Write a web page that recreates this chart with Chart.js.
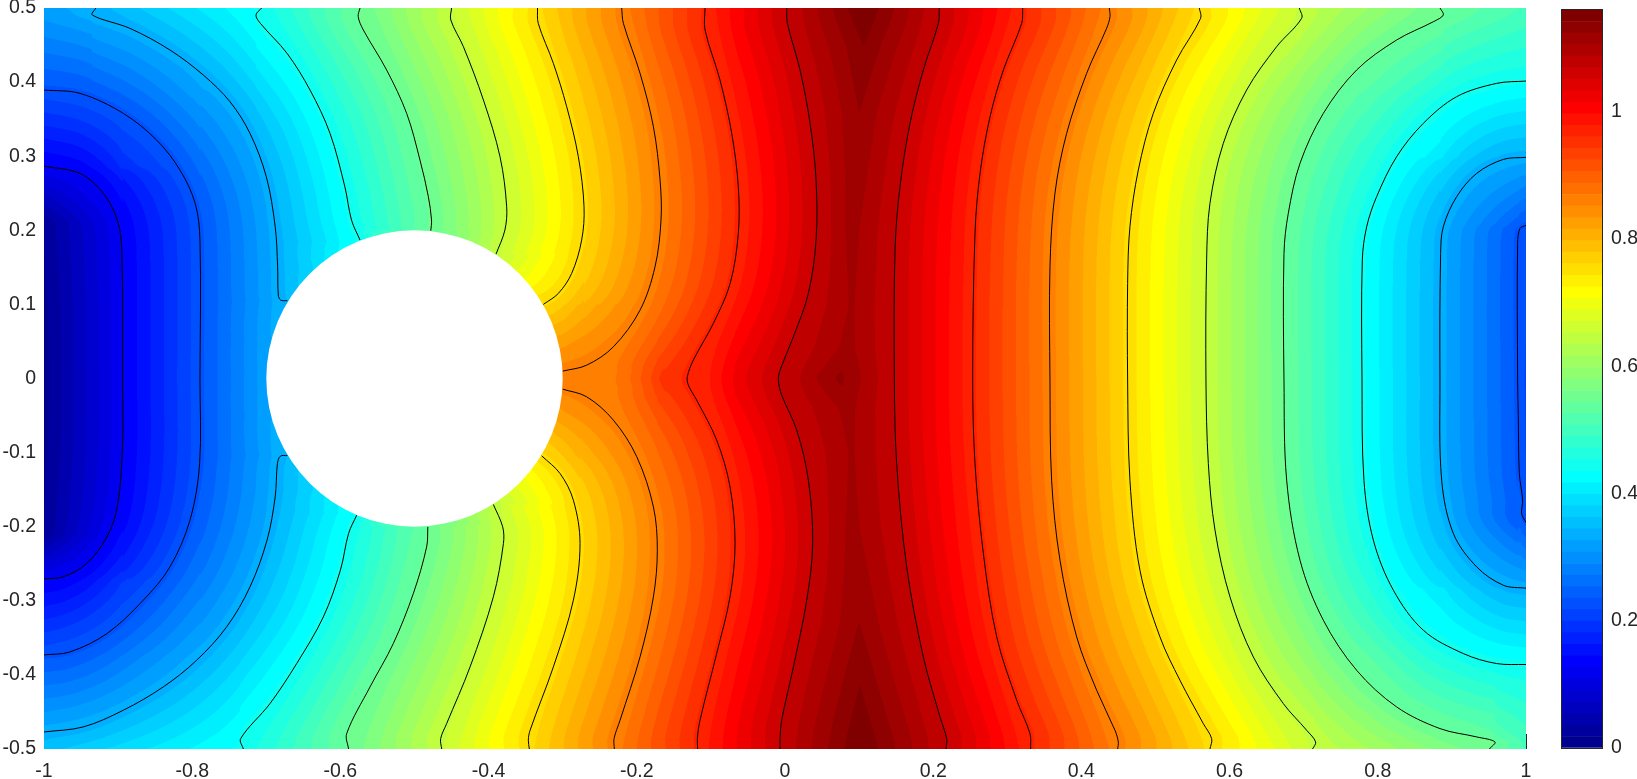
<!DOCTYPE html>
<html>
<head>
<meta charset="utf-8">
<title>Filled contour</title>
<script src="https://cdn.jsdelivr.net/npm/chart.js@4/dist/chart.umd.min.js"></script>
<style>
  html, body { margin: 0; padding: 0; background: #fff; overflow: hidden; }
  #field { position: absolute; left: 0; top: 0; }
  #cbar { position: absolute; left: 1540px; top: 0; }
</style>
</head>
<body>
<canvas id="field" width="1540" height="779"></canvas>
<canvas id="cbar" width="97" height="779"></canvas>
<script>
// tick labels
const xTicks = [-1, -0.8, -0.6, -0.4, -0.2, 0, 0.2, 0.4, 0.6, 0.8, 1];
const yTicks = [-0.5, -0.4, -0.3, -0.2, -0.1, 0, 0.1, 0.2, 0.3, 0.4, 0.5];
const cbarTicks = [0, 0.2, 0.4, 0.6, 0.8, 1];
const cbarMax = 1.16;
const bandCount = 64;

// value of each black contour line
const levels = [0.125, 0.23, 0.335, 0.44, 0.545, 0.65, 0.755, 0.86, 0.965, 1.07];

// contour lines, [x, y]
const line1 = [[-1,.2867],[-.9514,.2768],[-.92,.25],[-.901,.2138],[-.895,.1733],[-.894,-.002],[-.894,-.092],[-.901,-.173],[-.915,-.2137],[-.9424,-.2497],[-.974,-.2677],[-1,-.2704]];
const line2 = [[-1,.3893],[-.9514,.3848],[-.893,.3578],[-.848,.3218],[-.8165,.2813],[-.796,.2363],[-.7895,.1868],[-.7895,-.002],[-.79,-.1147],[-.803,-.1912],[-.83,-.2542],[-.866,-.2992],[-.915,-.3442],[-.965,-.369],[-1,-.373]];
const line3a = [[-.93,.5],[-.9348,.4905],[-.884,.4725],[-.83,.4433],[-.785,.4095],[-.749,.3735],[-.722,.3308],[-.7,.2723],[-.688,.2048],[-.6847,.1508],[-.6838,.1125],[-.6806,.1058],[-.6716,.105]];
const line3b = [[-.6716,-.104],[-.681,-.1048],[-.685,-.1147],[-.688,-.1597],[-.699,-.2182],[-.722,-.2812],[-.7535,-.3352],[-.794,-.3802],[-.839,-.4162],[-.893,-.4477],[-.947,-.4702],[-1,-.477]];
const line4a = [[-.7062,.5],[-.714,.4905],[-.708,.4793],[-.672,.4388],[-.641,.3893],[-.614,.3308],[-.594,.2588],[-.585,.2138],[-.5735,.1868]];
const line4b = [[-.578,-.1845],[-.589,-.2092],[-.6,-.2587],[-.623,-.3217],[-.659,-.3847],[-.695,-.4387],[-.7346,-.486],[-.731,-.5]];
const line5a = [[-.5735,.5],[-.576,.4883],[-.569,.4703],[-.5376,.4163],[-.5106,.3578],[-.4926,.2948],[-.4813,.2453],[-.477,.2138],[-.478,.1994]];
const line5b = [[-.482,-.2002],[-.4836,-.2272],[-.5016,-.2902],[-.5286,-.3577],[-.56,-.4162],[-.5915,-.4792],[-.589,-.5]];
const line6a = [[-.45,.5],[-.451,.4838],[-.434,.4478],[-.407,.3758],[-.3846,.2993],[-.3756,.2318],[-.378,.2003],[-.39,.1678]];
const line6b = [[-.3936,-.17],[-.381,-.2002],[-.38,-.2227],[-.3936,-.2947],[-.425,-.3892],[-.4566,-.4657],[-.4647,-.486],[-.4633,-.5]];
const line7a = [[-.334,.5],[-.333,.4793],[-.3126,.4253],[-.2946,.3668],[-.2789,.2993],[-.2712,.2318],[-.2744,.1868],[-.2879,.1418],[-.3059,.1148],[-.3261,.1]];
const line7b = [[-.3283,-.1044],[-.3036,-.1282],[-.2856,-.1642],[-.2766,-.2227],[-.2856,-.2992],[-.3126,-.3892],[-.344,-.4747],[-.3464,-.488],[-.345,-.5]];
const line8a = [[-.2204,.5],[-.2181,.4793],[-.1956,.4118],[-.1776,.3398],[-.1686,.2678],[-.1673,.2138],[-.1754,.1508],[-.1956,.0923],[-.2316,.0428],[-.2676,.018],[-.3,.01]];
const line8b = [[-.3,-.0144],[-.2676,-.0247],[-.2316,-.0562],[-.2,-.1057],[-.1776,-.1732],[-.1723,-.2317],[-.1776,-.2947],[-.1956,-.3757],[-.2226,-.4612],[-.2307,-.486],[-.2303,-.5]];
const line9a = [[-.1079,.5],[-.1079,.4703],[-.0877,.4028],[-.0719,.3308],[-.063,.2588],[-.063,.1958],[-.074,.1283],[-.0967,.0743],[-.1237,.0248],[-.1318,.0023],[-.1304,-.009],[-.1192,-.0292],[-.0922,-.0832],[-.0742,-.1462],[-.0674,-.2227],[-.0742,-.2947],[-.0922,-.3712],[-.1147,-.4612],[-.1183,-.486],[-.1178,-.5]];
const line10a = [[.0023,.5],[.0032,.4793],[.0203,.4163],[.0338,.3443],[.0419,.2678],[.0419,.1868],[.0315,.1148],[.0113,.0563],[-.0067,.0113],[-.009,-.002],[-.0045,-.0225],[.0158,-.0697],[.0315,-.1372],[.0374,-.2227],[.0293,-.2992],[.0113,-.3892],[-.0045,-.4612],[-.0067,-.486],[-.0067,-.5]];
const line10b = [[.2083,.5],[.207,.4793],[.1867,.4163],[.1687,.3443],[.1552,.2588],[.1485,.1733],[.1476,-.002],[.1507,-.1147],[.1642,-.2542],[.1867,-.3757],[.2092,-.4567],[.2182,-.486],[.2173,-.5]];
const line9b = [[.3208,.5],[.3194,.4793],[.2947,.4163],[.2767,.3533],[.2632,.2768],[.2564,.1958],[.2533,-.002],[.2564,-.1147],[.2677,-.2362],[.2857,-.3487],[.3127,-.4342],[.3306,-.4792],[.3315,-.5]];
const line8c = [[.4377,.5],[.4386,.4883],[.434,.4725],[.4071,.4118],[.3801,.3308],[.3643,.2498],[.3576,.1508],[.3576,-.002],[.3598,-.1372],[.3711,-.2452],[.3936,-.3487],[.4206,-.4207],[.4453,-.4747],[.4498,-.4905],[.4489,-.5]];
const line7c = [[.5591,.5],[.5609,.4861],[.5285,.4298],[.497,.3578],[.4768,.2813],[.4655,.2048],[.4624,.1283],[.4624,-.002],[.4655,-.1372],[.479,-.2587],[.506,-.3487],[.533,-.4072],[.5645,-.4657],[.5758,-.486],[.5735,-.5]];
const line6c = [[.6941,.5],[.6972,.4861],[.6635,.4478],[.623,.3893],[.5915,.3173],[.5735,.2363],[.569,.1598],[.5681,-.002],[.5713,-.1147],[.5803,-.2047],[.6005,-.2947],[.632,-.3757],[.6725,-.4387],[.704,-.4747],[.7161,-.4905],[.712,-.5]];
const line5c = [[.884,.5],[.8884,.4905],[.875,.4815],[.8254,.4568],[.7714,.4163],[.7265,.3578],[.695,.2903],[.6792,.2228],[.6734,.1688],[.6734,-.002],[.677,-.1372],[.695,-.2452],[.7265,-.3262],[.7714,-.3937],[.8254,-.4432],[.884,-.4725],[.9334,-.4837],[.9581,-.4905],[.9505,-.5]];
const line4c = [[1,.4014],[.9604,.3983],[.9064,.3803],[.8614,.3443],[.8254,.2993],[.7984,.2453],[.785,.2048],[.7791,.1598],[.7787,-.002],[.7813,-.1372],[.794,-.2182],[.821,-.2857],[.8614,-.3397],[.9154,-.3712],[.9604,-.3847],[1,-.386]];
const line3c = [[1,.2984],[.9694,.2957],[.9334,.2768],[.9064,.2453],[.8884,.2048],[.8848,.1688],[.8839,-.002],[.8862,-.1372],[.902,-.2092],[.9334,-.2542],[.9694,-.279],[1,-.283]];
const line2c = [[1,.2066],[.9919,.2025],[.9887,.1823],[.9887,-.002],[.9896,-.05],[.991,-.1282],[.9955,-.1642],[.9941,-.1822],[1,-.1944]];

const contourSets = [
  [0, [line1]],
  [1, [line2, line2c]],
  [2, [line3a, line3b, line3c]],
  [3, [line4a, line4b, line4c]],
  [4, [line5a, line5b, line5c]],
  [5, [line6a, line6b, line6c]],
  [6, [line7a, line7b, line7c]],
  [7, [line8a, line8b, line8c]],
  [8, [line9a, line9b]],
  [9, [line10a, line10b]]
];

// values read along the two side edges
const leftEdgeY = [.5, .45, .3893, .2867, .21, .1, 0, -.1, -.21, -.2704, -.373, -.477, -.5];
const leftEdgeZ = [.32, .285, .23, .125, .02, .012, .01, .012, .02, .125, .23, .335, .355];
const rightEdgeY = [.5, .45, .4014, .35, .2984, .2066, .15, 0, -.1, -.1944, -.283, -.386, -.45, -.5];
const rightEdgeZ = [.505, .485, .44, .385, .335, .23, .222, .215, .217, .23, .335, .44, .485, .505];

// crest of the field between the two innermost lines
const ridgeY = [.5, .45, .36, .2, .1, .04, 0, -.04, -.1, -.2, -.33, -.414, -.5];
const ridgeX = [.106, .106, .1, .09, .09, .085, .074, .085, .09, .09, .1, .101, .102];
const ridgeZ = [1.16, 1.142, 1.124, 1.113, 1.108, 1.112, 1.128, 1.112, 1.108, 1.112, 1.124, 1.142, 1.16];

// values read around the rim of the hole
const holeCenter = [{ x: -0.5, y: 0 }];
const holeRadius = 0.2;
const rimY = [.2, .187, .15, .105, .05, .012, 0];
const rimLeftZ = [.525, .44, .385, .346, .326, .32, .32];
const rimRightZ = [.54, .6, .68, .755, .825, .86, .87];

function jet(t) {
  const c = v => Math.round(255 * Math.max(0, Math.min(1, 1.5 - Math.abs(4 * t - v))));
  return [c(3), c(2), c(1)];
}
function bandColor(i) {
  const rgb = jet((i + 1) / bandCount);
  return `rgb(${rgb[0]},${rgb[1]},${rgb[2]})`;
}

// ys runs high to low
function readAt(ys, vals, y) {
  for (let i = 1; i < ys.length; i++) {
    if (y >= ys[i]) {
      return vals[i - 1] + (vals[i] - vals[i - 1]) * (ys[i - 1] - y) / (ys[i - 1] - ys[i]);
    }
  }
  return vals[vals.length - 1];
}

const lineTension = 0.34;
const lineSteps = 8;

// same curve the line element draws, so the bands follow the black lines
function curvePoints(pts) {
  const p = pts.map(q => ({ x: q[0], y: q[1] }));
  const out = [pts[0]];
  for (let i = 1; i < p.length; i++) {
    const c0 = Chart.helpers.splineCurve(p[Math.max(i - 2, 0)], p[i - 1], p[i], lineTension).next;
    const c1 = Chart.helpers.splineCurve(p[i - 1], p[i], p[Math.min(i + 1, p.length - 1)], lineTension).previous;
    for (let s = 1; s <= lineSteps; s++) {
      const t = s / lineSteps, u = 1 - t;
      out.push([
        u * u * u * p[i - 1].x + 3 * u * u * t * c0.x + 3 * u * t * t * c1.x + t * t * t * p[i].x,
        u * u * u * p[i - 1].y + 3 * u * u * t * c0.y + 3 * u * t * t * c1.y + t * t * t * p[i].y
      ]);
    }
  }
  return out;
}

const curves = [];
contourSets.forEach(([lev, lines]) => {
  lines.forEach(pts => curves.push({ z: levels[lev], pts: curvePoints(pts) }));
});

// what a row of the field passes through, left to right
function rowCrossings(y) {
  const out = [
    [-1, readAt(leftEdgeY, leftEdgeZ, y)],
    [1, readAt(rightEdgeY, rightEdgeZ, y)],
    [readAt(ridgeY, ridgeX, y), readAt(ridgeY, ridgeZ, y)]
  ];
  curves.forEach(cv => {
    for (let i = 1; i < cv.pts.length; i++) {
      const a = cv.pts[i - 1], b = cv.pts[i];
      if ((a[1] > y) !== (b[1] > y)) {
        out.push([a[0] + (b[0] - a[0]) * (y - a[1]) / (b[1] - a[1]), cv.z]);
      }
    }
  });
  const ay = Math.abs(y);
  if (ay < holeRadius) {
    const dx = Math.sqrt(holeRadius * holeRadius - y * y);
    out.push([holeCenter[0].x - dx, readAt(rimY, rimLeftZ, ay)]);
    out.push([holeCenter[0].x + dx, readAt(rimY, rimRightZ, ay)]);
  }
  return out.sort((p, q) => p[0] - q[0]);
}

function valueAlong(cross, v) {
  let k = 0;
  while (k < cross.length - 2 && cross[k + 1][0] < v) k++;
  const a = cross[k], b = cross[k + 1];
  return b[0] > a[0] ? a[1] + (b[1] - a[1]) * (v - a[0]) / (b[0] - a[0]) : a[1];
}

// what a column passes through, bottom to top
function columnCrossings(x, topRow, bottomRow) {
  const out = [[-0.5, valueAlong(bottomRow, x)], [0.5, valueAlong(topRow, x)]];
  curves.forEach(cv => {
    for (let i = 1; i < cv.pts.length; i++) {
      const a = cv.pts[i - 1], b = cv.pts[i];
      if ((a[0] > x) !== (b[0] > x)) {
        out.push([a[1] + (b[1] - a[1]) * (x - a[0]) / (b[0] - a[0]), cv.z]);
      }
    }
  });
  const dc = x - holeCenter[0].x;
  if (Math.abs(dc) < holeRadius) {
    const dy = Math.sqrt(holeRadius * holeRadius - dc * dc);
    const z = readAt(rimY, dc < 0 ? rimLeftZ : rimRightZ, dy);
    out.push([-dy, z], [dy, z]);
  }
  return out.sort((p, q) => p[0] - q[0]);
}

let fieldImage = null;
const fieldFill = {
  id: 'fieldFill',
  beforeDatasetsDraw(chart) {
    const { ctx, chartArea: area, scales } = chart;
    if (!fieldImage) {
      const ss = 2;
      const w = Math.round(area.width) * ss, h = Math.round(area.height) * ss;
      fieldImage = document.createElement('canvas');
      fieldImage.width = w;
      fieldImage.height = h;
      const g = fieldImage.getContext('2d');
      const img = g.createImageData(w, h);
      const lut = [];
      for (let i = 0; i < bandCount; i++) lut.push(jet((i + 1) / bandCount));
      const xs = new Float64Array(w), ys = new Float64Array(h);
      for (let c = 0; c < w; c++) xs[c] = scales.x.getValueForPixel(area.left + (c + 0.5) / ss);
      for (let r = 0; r < h; r++) ys[r] = scales.y.getValueForPixel(area.top + (r + 0.5) / ss);
      const rowZ = new Float32Array(w * h), rowW = new Float32Array(w * h);
      for (let r = 0; r < h; r++) {
        const cross = rowCrossings(ys[r]);
        let k = 0;
        for (let c = 0; c < w; c++) {
          while (k < cross.length - 2 && cross[k + 1][0] < xs[c]) k++;
          const a = cross[k], b = cross[k + 1], gap = b[0] - a[0];
          rowZ[r * w + c] = gap > 0 ? a[1] + (b[1] - a[1]) * (xs[c] - a[0]) / gap : a[1];
          rowW[r * w + c] = 1 / Math.pow(Math.max(gap, 0.002), 3);
        }
      }
      const topRow = rowCrossings(0.4995), bottomRow = rowCrossings(-0.4995);
      for (let c = 0; c < w; c++) {
        const cross = columnCrossings(xs[c], topRow, bottomRow);
        let k = 0;
        for (let r = h - 1; r >= 0; r--) {
          while (k < cross.length - 2 && cross[k + 1][0] < ys[r]) k++;
          const a = cross[k], b = cross[k + 1], gap = b[0] - a[0];
          const zc = gap > 0 ? a[1] + (b[1] - a[1]) * (ys[r] - a[0]) / gap : a[1];
          const wc = 1 / Math.pow(Math.max(gap, 0.002), 3);
          const wr = rowW[r * w + c];
          const z = (rowZ[r * w + c] * wr + zc * wc) / (wr + wc);
          const band = Math.max(0, Math.min(bandCount - 1, Math.floor(z / cbarMax * bandCount)));
          const o = (r * w + c) * 4;
          img.data[o] = lut[band][0];
          img.data[o + 1] = lut[band][1];
          img.data[o + 2] = lut[band][2];
          img.data[o + 3] = 255;
        }
      }
      g.putImageData(img, 0, 0);
    }
    ctx.drawImage(fieldImage, area.left, area.top, area.width, area.height);
  }
};

const tickFont = { family: '"Liberation Sans", Arial, sans-serif', size: 19.5 };
const textColor = '#262626';

const lineSets = [];
contourSets.forEach(([lev, lines]) => {
  lines.forEach(pts => {
    lineSets.push({
      data: pts.map(p => ({ x: p[0], y: p[1] })),
      showLine: true,
      borderColor: '#000',
      borderWidth: 1,
      pointRadius: 0,
      tension: lineTension
    });
  });
});

new Chart(document.getElementById('field'), {
  type: 'scatter',
  data: {
    datasets: [{
      data: holeCenter,
      pointBackgroundColor: '#fff',
      pointBorderWidth: 0,
      pointRadius: ctx => ctx.chart.scales.x.getPixelForValue(holeCenter[0].x + holeRadius) - ctx.chart.scales.x.getPixelForValue(holeCenter[0].x),
      pointHoverRadius: 0
    }].concat(lineSets)
  },
  options: {
    responsive: false,
    animation: false,
    events: [],
    layout: { padding: { top: 8, right: 14 } },
    plugins: { legend: { display: false }, tooltip: { enabled: false } },
    scales: {
      x: {
        type: 'linear',
        min: -1,
        max: 1,
        afterBuildTicks(scale) { scale.ticks = xTicks.map(v => ({ value: v })); },
        afterFit(scale) { scale.height = 30; scale.paddingLeft = 0; scale.paddingRight = 0; },
        border: { display: false },
        grid: { drawOnChartArea: false, tickLength: -15, color: textColor },
        ticks: {
          font: tickFont,
          color: textColor,
          padding: 26,
          maxRotation: 0,
          autoSkip: false,
          callback: v => String(+v.toFixed(1))
        }
      },
      y: {
        type: 'linear',
        min: -0.5,
        max: 0.5,
        afterBuildTicks(scale) { scale.ticks = yTicks.map(v => ({ value: v })); },
        afterFit(scale) { scale.width = 44; scale.paddingTop = 0; scale.paddingBottom = 0; },
        border: { display: false },
        grid: { display: false, drawTicks: false },
        ticks: {
          font: tickFont,
          color: textColor,
          padding: 8,
          autoSkip: false,
          callback: v => String(+v.toFixed(1))
        }
      }
    }
  },
  plugins: [fieldFill]
});

const cbarSets = [];
for (let i = 0; i < bandCount; i++) {
  cbarSets.push({
    data: [cbarMax / bandCount],
    backgroundColor: bandColor(i),
    borderWidth: 0,
    barPercentage: 1,
    categoryPercentage: 1
  });
}

const cbarFrame = {
  id: 'cbarFrame',
  afterDraw(chart) {
    const { ctx, chartArea: a } = chart;
    ctx.save();
    ctx.strokeStyle = textColor;
    ctx.lineWidth = 1;
    ctx.strokeRect(a.left - 0.5, a.top - 0.5, a.width + 1, a.height + 1);
    ctx.restore();
  }
};

new Chart(document.getElementById('cbar'), {
  type: 'bar',
  data: { labels: [''], datasets: cbarSets },
  options: {
    responsive: false,
    animation: false,
    events: [],
    layout: { padding: { left: 22, top: 10, bottom: 31 } },
    plugins: { legend: { display: false }, tooltip: { enabled: false } },
    scales: {
      x: { stacked: true, display: false },
      y: {
        stacked: true,
        position: 'right',
        min: 0,
        max: cbarMax,
        afterBuildTicks(scale) { scale.ticks = cbarTicks.map(v => ({ value: v })); },
        afterFit(scale) { scale.width = 35; scale.paddingTop = 0; scale.paddingBottom = 0; },
        border: { display: false },
        grid: { drawOnChartArea: false, tickLength: -7, color: textColor },
        ticks: {
          font: tickFont,
          color: textColor,
          padding: 16,
          autoSkip: false,
          callback: v => String(+v.toFixed(1))
        }
      }
    }
  },
  plugins: [cbarFrame]
});
</script>
</body>
</html>
